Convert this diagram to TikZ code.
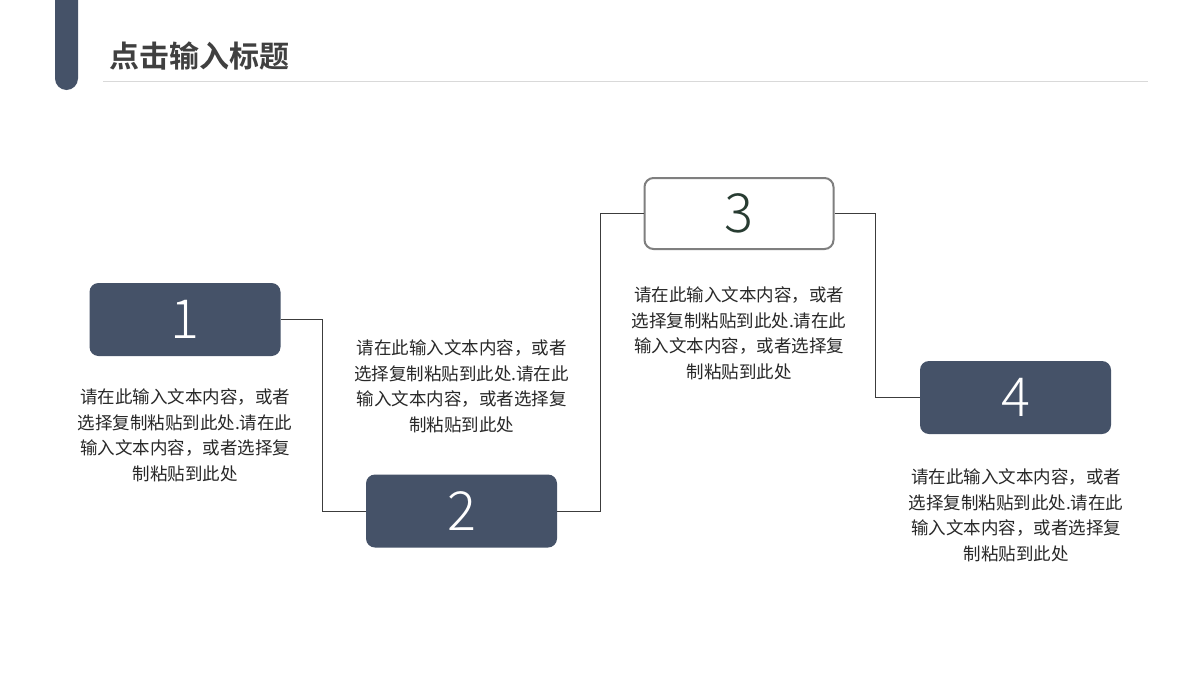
\documentclass[tikz,border=0pt]{standalone}
\usepackage{fontspec}
\setmainfont{Noto Sans CJK SC}
\newfontfamily\cjkbold{Noto Sans CJK SC}[UprightFont={* Bold}]
\newfontfamily\cjklight{Noto Sans CJK SC}[UprightFont={* Light}]
\definecolor{slate}{RGB}{69,82,104}
\definecolor{txt}{RGB}{40,40,40}
\definecolor{ttl}{RGB}{64,64,64}
\definecolor{rule}{RGB}{217,217,217}
\definecolor{conn}{RGB}{60,60,60}
\definecolor{frame}{RGB}{127,127,127}
\definecolor{numdark}{RGB}{40,60,50}
\tikzset{
  numbox/.style={rounded corners=9pt, minimum width=191pt, minimum height=73pt, inner sep=0pt,
    font=\cjklight\fontsize{54}{54}\selectfont},
  filledbox/.style={numbox, fill=slate, text=white},
  openbox/.style={numbox, draw=frame, line width=2pt, fill=white, text=numdark,
    minimum width=189pt, minimum height=71pt},
  desc/.style={align=center, text=txt, font=\fontsize{17.5}{25.5}\selectfont, inner sep=0pt},
  link/.style={draw=conn, line width=0.9pt},
}
\begin{document}
\begin{tikzpicture}[x=1pt,y=-1pt]
\useasboundingbox (0,0) rectangle (1200,680);
\fill[white] (0,0) rectangle (1200,680);
\begin{scope}
\clip (0,0) rectangle (1200,680);
\fill[slate, rounded corners=11.5pt] (55,-30) rectangle (78,90);
\end{scope}
\node[anchor=west, inner sep=0pt, text=ttl, font=\cjkbold\fontsize{30}{30}\selectfont] (title) at (109,56) {点击输入标题};
\draw[rule, line width=1pt] (103,81) -- (1148,81);

\node[filledbox] (b1) at (185,319.5) {1};
\node[filledbox] (b2) at (461.5,511) {2};
\node[openbox] (b3) at (739,213.5) {3};
\node[filledbox] (b4) at (1015.5,397.5) {4};

\node[desc] (t1) at (185,435.5) {请在此输入文本内容，或者\\选择复制粘贴到此处.请在此\\输入文本内容，或者选择复\\制粘贴到此处};
\node[desc] (t2) at (461.5,386.5) {请在此输入文本内容，或者\\选择复制粘贴到此处.请在此\\输入文本内容，或者选择复\\制粘贴到此处};
\node[desc] (t3) at (739,333.5) {请在此输入文本内容，或者\\选择复制粘贴到此处.请在此\\输入文本内容，或者选择复\\制粘贴到此处};
\node[desc] (t4) at (1016,515.5) {请在此输入文本内容，或者\\选择复制粘贴到此处.请在此\\输入文本内容，或者选择复\\制粘贴到此处};

\draw[link] (b1.east) -- ++(42,0) |- (b2.west);
\draw[link] (b2.east) -- ++(43,0) |- (b3.west);
\draw[link] (b3.east) -- ++(41,0) |- (b4.west);
\end{tikzpicture}
\end{document}
